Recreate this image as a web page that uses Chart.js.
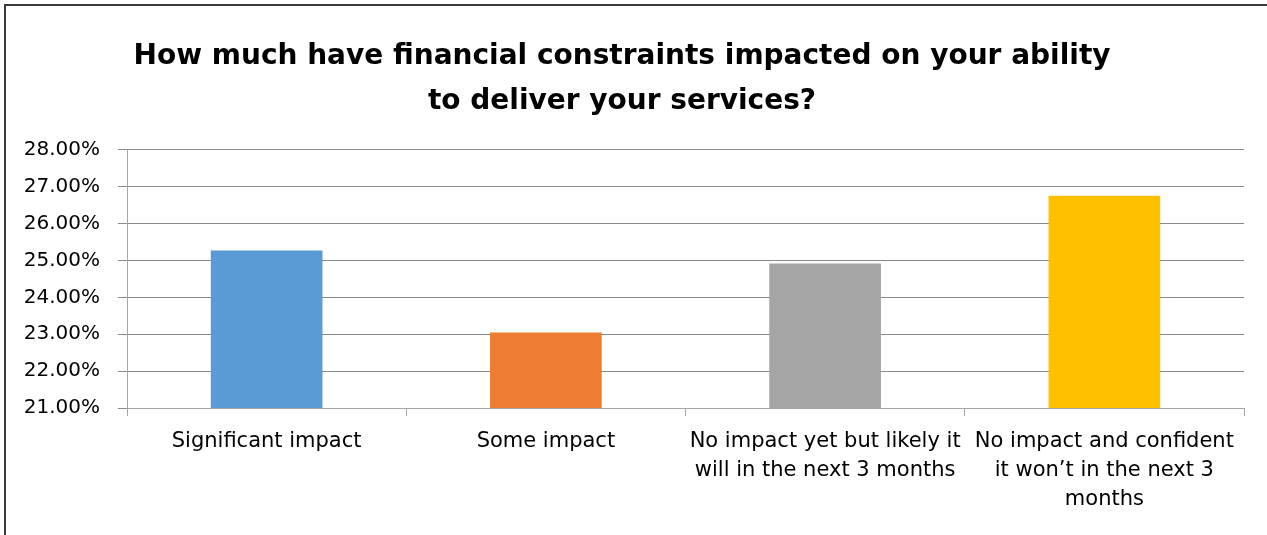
<!DOCTYPE html>
<html>
<head>
<meta charset="utf-8">
<script src="https://cdn.jsdelivr.net/npm/chart.js@4.4.1/dist/chart.umd.min.js"></script>
<style>
  html, body { margin: 0; padding: 0; background: #fff; }
  #wrap { position: relative; width: 1267px; height: 535px; overflow: hidden; }
  #frame { position: absolute; left: 4px; top: 4px; width: 1300px; height: 600px;
           border-top: 2px solid #3b3b3b; border-left: 2px solid #3b3b3b; pointer-events: none; }
  canvas { position: absolute; left: 0; top: 0; }
</style>
</head>
<body>
<div id="wrap">
  <canvas id="impactChart" width="1267" height="535"></canvas>
  <div id="frame"></div>
</div>
<script>
// survey answers and share of respondents (%)
var categories = [
  'Significant impact',
  'Some impact',
  ['No impact yet but likely it', 'will in the next 3 months'],
  ['No impact and confident', 'it won\u2019t in the next 3', 'months']
];
var shares = [25.27, 23.05, 24.92, 26.76];
var barColors = ['#5b9bd5', '#ed7d31', '#a5a5a5', '#ffc000'];
var yTicks = [21, 22, 23, 24, 25, 26, 27, 28];

var fontFamily = '"DejaVu Sans", sans-serif';

document.addEventListener('DOMContentLoaded', function() {
    var ctx = document.getElementById('impactChart').getContext('2d');
    new Chart(ctx, {
        type: 'bar',
        data: {
            labels: categories,
            datasets: [{
                data: shares,
                backgroundColor: barColors,
                borderWidth: 0,
                categoryPercentage: 1,
                barPercentage: 0.4
            }]
        },
        options: {
            responsive: false,
            animation: false,
            layout: { padding: { left: 0, right: 23, top: 0, bottom: 0 } },
            plugins: {
                legend: { display: false },
                tooltip: { enabled: false },
                title: {
                    display: true,
                    text: ['How much have financial constraints impacted on your ability',
                           'to deliver your services?'],
                    color: '#000',
                    font: { family: fontFamily, size: 28, weight: 'bold', lineHeight: 1.607 },
                    padding: { top: 34, bottom: 26 }
                }
            },
            scales: {
                x: {
                    afterFit: function(scale) { scale.height = 127; },
                    grid: {
                        drawOnChartArea: false,
                        tickLength: 8,
                        color: '#a6a6a6'
                    },
                    border: { color: '#a6a6a6', width: 1 },
                    ticks: {
                        color: '#000',
                        maxRotation: 0,
                        autoSkip: false,
                        padding: 11,
                        font: { family: fontFamily, size: 21, lineHeight: 1.38 }
                    }
                },
                y: {
                    min: yTicks[0],
                    max: yTicks[yTicks.length - 1],
                    afterBuildTicks: function(scale) {
                        scale.ticks = yTicks.map(function(v) { return { value: v }; });
                    },
                    afterFit: function(scale) { scale.width = 127; },
                    grid: { color: '#898989', tickLength: 9 },
                    border: { color: '#a6a6a6', width: 1 },
                    ticks: {
                        color: '#000',
                        padding: 18,
                        font: { family: fontFamily, size: 20 },
                        callback: function(v) { return v.toFixed(2) + '%'; }
                    }
                }
            }
        }
    });
});
</script>
</body>
</html>
